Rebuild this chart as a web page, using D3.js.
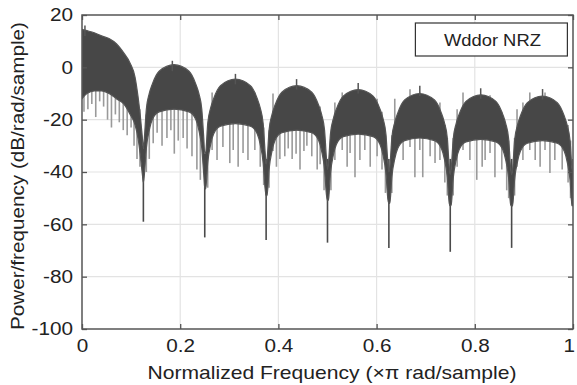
<!DOCTYPE html>
<html>
<head>
<meta charset="utf-8">
<script src="https://cdn.jsdelivr.net/npm/d3@7"></script>
<style>
  body { margin: 0; background: #fff; }
  text { font-family: 'Liberation Sans', Arial, Helvetica, sans-serif; fill: #222; }
</style>
</head>
<body>
<svg id="chart"></svg>
<script>
// tick labels
const xTicks = [0, 0.2, 0.4, 0.6, 0.8, 1];
const yTicks = [20, 0, -20, -40, -60, -80, -100];

// band of the spectrum (top of the dark band / bottom of the solid part)
const bandFreq = [
  0, 0.01, 0.025, 0.04, 0.055, 0.07, 0.085, 0.098, 0.108, 0.114, 0.119, 0.123, 0.125,
  0.127, 0.131, 0.137, 0.143, 0.157, 0.1875, 0.218, 0.232, 0.238, 0.244, 0.248, 0.25,
  0.252, 0.256, 0.262, 0.268, 0.282, 0.3125, 0.343, 0.357, 0.363, 0.369, 0.373, 0.375,
  0.377, 0.381, 0.387, 0.393, 0.407, 0.4375, 0.468, 0.482, 0.488, 0.494, 0.498, 0.5,
  0.502, 0.506, 0.512, 0.518, 0.532, 0.5625, 0.593, 0.607, 0.613, 0.619, 0.623, 0.625,
  0.627, 0.631, 0.637, 0.643, 0.657, 0.6875, 0.718, 0.732, 0.738, 0.744, 0.748, 0.75,
  0.752, 0.756, 0.762, 0.768, 0.782, 0.8125, 0.843, 0.857, 0.863, 0.869, 0.873, 0.875,
  0.877, 0.881, 0.887, 0.893, 0.907, 0.9375, 0.968, 0.982, 0.988, 0.994, 0.998, 1
];
const bandTop = [
  14.5, 14, 13.2, 12, 11, 9, 5.5, 1.6, -3.7, -11, -19, -27, -31,
  -27, -16, -10, -6.5, -1.5, 1, -1.5, -6.5, -10, -16, -27, -33,
  -32.5, -21.5, -15.5, -12, -7, -4.5, -7, -12, -15.5, -21.5, -32.5, -37,
  -35, -24, -18, -14.5, -9.5, -7, -9.5, -14.5, -18, -24, -35, -39,
  -36.5, -25.5, -19.5, -16, -11, -8.5, -11, -16, -19.5, -25.5, -36.5, -40,
  -38, -27, -21, -17.5, -12.5, -10, -12.5, -17.5, -21, -27, -38, -41,
  -38.5, -27.5, -21.5, -18, -13, -10.5, -13, -18, -21.5, -27.5, -38.5, -41,
  -39, -28, -22, -18.5, -13.5, -11, -13.5, -18.5, -22, -28, -39, -41
];
const bandLow = [
  -12, -10, -9, -9, -10, -12, -14, -18, -22, -27, -34, -41, -44,
  -41, -31, -24, -20, -17, -16, -17, -20, -24, -31, -41, -46,
  -46.5, -36.5, -29.5, -25.5, -22.5, -21.5, -22.5, -25.5, -29.5, -36.5, -46.5, -49,
  -49, -39, -32, -28, -25, -24, -25, -28, -32, -39, -49, -51,
  -50.5, -40.5, -33.5, -29.5, -26.5, -25.5, -26.5, -29.5, -33.5, -40.5, -50.5, -52,
  -52, -42, -35, -31, -28, -27, -28, -31, -35, -42, -52, -53,
  -52.5, -42.5, -35.5, -31.5, -28.5, -27.5, -28.5, -31.5, -35.5, -42.5, -52.5, -53,
  -53, -43, -36, -32, -29, -28, -29, -32, -36, -43, -53, -52
];

// light downward spikes under the band
const spikeFreq = [
  0.004, 0.012, 0.02, 0.028, 0.036, 0.044, 0.052, 0.06, 0.068, 0.076, 0.084, 0.092, 0.1, 0.106, 0.112, 0.118,
  0.131, 0.137, 0.145, 0.153, 0.163, 0.173, 0.181, 0.188, 0.196, 0.206, 0.214, 0.224, 0.234, 0.241,
  0.256, 0.265, 0.275, 0.287, 0.301, 0.308, 0.318, 0.328, 0.338, 0.352, 0.363, 0.37,
  0.381, 0.389, 0.396, 0.403, 0.413, 0.42, 0.428, 0.436, 0.444, 0.452, 0.458, 0.468, 0.479, 0.485, 0.493,
  0.507, 0.515, 0.53, 0.54, 0.546, 0.556, 0.566, 0.576, 0.587, 0.601, 0.611, 0.618,
  0.631, 0.637, 0.654, 0.668, 0.678, 0.688, 0.694, 0.709, 0.719, 0.729, 0.739, 0.744,
  0.756, 0.764, 0.776, 0.79, 0.804, 0.815, 0.821, 0.831, 0.841, 0.855, 0.865, 0.869,
  0.881, 0.886, 0.898, 0.912, 0.923, 0.933, 0.943, 0.953, 0.963, 0.978, 0.99, 0.995
];
const spikeDb = [
  -17, -16, -14, -19, -13, -15, -20, -23, -18, -21, -24, -26, -23, -30, -35, -38,
  -40, -35, -29, -25, -30, -27, -24, -33, -28, -27, -31, -34, -39, -43,
  -46, -31.6, -35.4, -30.4, -36.6, -31.6, -38, -32.7, -35.4, -31.6, -38, -45,
  -46, -32, -38, -35, -34, -31, -35, -33, -39, -32, -30, -34, -39, -37, -47,
  -47, -35.4, -31.6, -38, -32.7, -42, -35.4, -31.6, -38, -34, -39, -48,
  -48, -34, -35.4, -30.4, -42, -31.6, -42, -34, -36.6, -35.4, -44, -49,
  -49, -38, -31.6, -35.4, -43, -38, -35.4, -32.7, -42, -39, -47, -50,
  -49, -38, -35.4, -31.6, -35.4, -38, -31.6, -40.4, -35.4, -39, -44, -50
];

// deep notches at multiples of 1/8
const nullFreq = [0.125, 0.25, 0.375, 0.5, 0.625, 0.75, 0.875, 1];
const nullDb = [-59, -65, -66, -67, -69, -70.5, -69, -52];

// small spikes poking above each lobe
const peakFreq = [0.006, 0.184, 0.3125, 0.437, 0.5625, 0.688, 0.812, 0.938];
const peakDb = [16, 2.5, -2.5, -4.5, -6, -7, -8, -8.3];

const legendLabel = 'Wddor NRZ';

class SpectrumPlot {

  constructor(_config) {
    this.config = {
      parentElement: _config.parentElement,
      containerWidth: 577,
      containerHeight: 385,
      margin: {top: 15, right: 4, bottom: 56, left: 82},
      tickSize: 5,
      stretch: 1.12
    }
    this.initVis();
  }

  initVis() {
    let vis = this;

    vis.svg = d3.select(vis.config.parentElement)
        .attr('width', vis.config.containerWidth)
        .attr('height', vis.config.containerHeight);

    vis.width = vis.config.containerWidth - vis.config.margin.left - vis.config.margin.right;
    vis.height = vis.config.containerHeight - vis.config.margin.top - vis.config.margin.bottom;

    vis.chartArea = vis.svg.append('g')
        .attr('transform', `translate(${vis.config.margin.left},${vis.config.margin.top})`);

    vis.xScale = d3.scaleLinear().domain([0, 1]).range([0, vis.width]);
    vis.yScale = d3.scaleLinear().domain([-100, 20]).range([vis.height, 0]);

    vis.chartArea.append('defs')
        .append('clipPath').attr('id', 'plot-mask')
        .append('rect')
        .attr('width', vis.width)
        .attr('height', vis.height);

    vis.renderVis();
  }

  renderVis() {
    let vis = this;
    const x = vis.xScale, y = vis.yScale;

    // grid
    vis.chartArea.append('g')
        .selectAll('line.gx')
        .data(xTicks.slice(1, -1))
        .join('line')
        .attr('x1', d => x(d)).attr('x2', d => x(d))
        .attr('y1', 0).attr('y2', vis.height)
        .attr('stroke', '#e3e3e3').attr('stroke-width', 1.2);
    vis.chartArea.append('g')
        .selectAll('line.gy')
        .data(yTicks.slice(1, -1))
        .join('line')
        .attr('y1', d => y(d)).attr('y2', d => y(d))
        .attr('x1', 0).attr('x2', vis.width)
        .attr('stroke', '#e3e3e3').attr('stroke-width', 1.2);

    const plot = vis.chartArea.append('g').attr('clip-path', 'url(#plot-mask)');

    // light spikes (drawn first, the band covers their upper part)
    const spikes = spikeFreq.map((f, i) => ({f: f, v: spikeDb[i]}));
    plot.append('g')
        .selectAll('line')
        .data(spikes)
        .join('line')
        .attr('x1', d => x(d.f)).attr('x2', d => x(d.f))
        .attr('y1', d => y(d.v)).attr('y2', d => y(d.v + 22))
        .attr('stroke', '#9a9a9a').attr('stroke-width', 1.6);

    // notches
    const nulls = nullFreq.map((f, i) => ({f: f, v: nullDb[i]}));
    plot.append('g')
        .selectAll('line')
        .data(nulls)
        .join('line')
        .attr('x1', d => x(d.f)).attr('x2', d => x(d.f))
        .attr('y1', d => y(d.v)).attr('y2', d => y(-35))
        .attr('stroke', '#4a4a4a').attr('stroke-width', 1.6);

    // main band
    const band = bandFreq.map((f, i) => ({f: f, hi: bandTop[i], lo: bandLow[i]}));
    const area = d3.area()
        .x(d => x(d.f))
        .y0(d => y(d.lo))
        .y1(d => y(d.hi))
        .curve(d3.curveMonotoneX);
    plot.append('path')
        .datum(band)
        .attr('d', area)
        .attr('fill', '#474747')
        .attr('stroke', '#555')
        .attr('stroke-width', 1.2);

    const peaks = peakFreq.map((f, i) => ({f: f, v: peakDb[i]}));
    plot.append('g')
        .selectAll('line')
        .data(peaks)
        .join('line')
        .attr('x1', d => x(d.f)).attr('x2', d => x(d.f))
        .attr('y1', d => y(d.v)).attr('y2', d => y(d.v - 4))
        .attr('stroke', '#555').attr('stroke-width', 1.5);

    // axes: box with inward ticks on all four sides
    const ts = vis.config.tickSize;
    const axisColor = '#555';
    const sx = vis.config.stretch;
    vis.chartArea.append('rect')
        .attr('width', vis.width).attr('height', vis.height)
        .attr('fill', 'none').attr('stroke', axisColor).attr('stroke-width', 1.5);

    const xAxis = d3.axisBottom(x).tickValues(xTicks).tickSize(-ts).tickPadding(10)
        .tickFormat(d3.format('~g'));
    const gx = vis.chartArea.append('g')
        .attr('transform', `translate(0,${vis.height})`)
        .call(xAxis);
    const xTop = d3.axisTop(x).tickValues(xTicks).tickSize(-ts).tickFormat('');
    const gxt = vis.chartArea.append('g').call(xTop);

    const yAxis = d3.axisLeft(y).tickValues(yTicks).tickSize(-ts).tickPadding(8)
        .tickFormat(d => String(d));
    const gy = vis.chartArea.append('g').call(yAxis);
    const yRight = d3.axisRight(y).tickValues(yTicks).tickSize(-ts).tickFormat('');
    const gyr = vis.chartArea.append('g')
        .attr('transform', `translate(${vis.width},0)`)
        .call(yRight);

    [gx, gxt, gy, gyr].forEach(g => {
      g.select('.domain').remove();
      g.selectAll('.tick line').attr('stroke', axisColor).attr('stroke-width', 1.3);
      g.selectAll('.tick text')
          .attr('font-family', "'Liberation Sans', Arial, sans-serif")
          .attr('font-size', '18.5px')
          .attr('fill', '#222');
    });
    // the reference's lettering is slightly wider than the font
    gx.selectAll('.tick text').attr('transform', `scale(${sx},1)`);
    gx.selectAll('.tick text').filter(d => d === 1).attr('dx', '-0.2em');
    gy.selectAll('.tick text')
        .attr('x', null)
        .attr('transform', `translate(-9,0) scale(${sx},1)`);

    // axis titles
    vis.svg.append('text')
        .attr('text-anchor', 'middle')
        .attr('font-size', '18.5px')
        .attr('textLength', 369)
        .attr('lengthAdjust', 'spacingAndGlyphs')
        .attr('transform', `translate(332, 379)`)
        .text('Normalized Frequency (\u00d7\u03c0 rad/sample)');

    vis.svg.append('text')
        .attr('text-anchor', 'middle')
        .attr('font-size', '18.5px')
        .attr('textLength', 308)
        .attr('lengthAdjust', 'spacingAndGlyphs')
        .attr('transform', `translate(24, 176) rotate(-90)`)
        .text('Power/frequency (dB/rad/sample)');

    // legend
    const lg = vis.chartArea.append('g')
        .attr('transform', `translate(${x(0.679)}, 8)`);
    lg.append('rect')
        .attr('width', 152).attr('height', 33)
        .attr('fill', '#fff')
        .attr('stroke', '#333').attr('stroke-width', 1.2);
    lg.append('text')
        .attr('x', 77).attr('y', 23)
        .attr('text-anchor', 'middle')
        .attr('font-size', '17px')
        .attr('textLength', 97)
        .attr('lengthAdjust', 'spacingAndGlyphs')
        .text(legendLabel);
  }
}

new SpectrumPlot({parentElement: '#chart'});
</script>
</body>
</html>
